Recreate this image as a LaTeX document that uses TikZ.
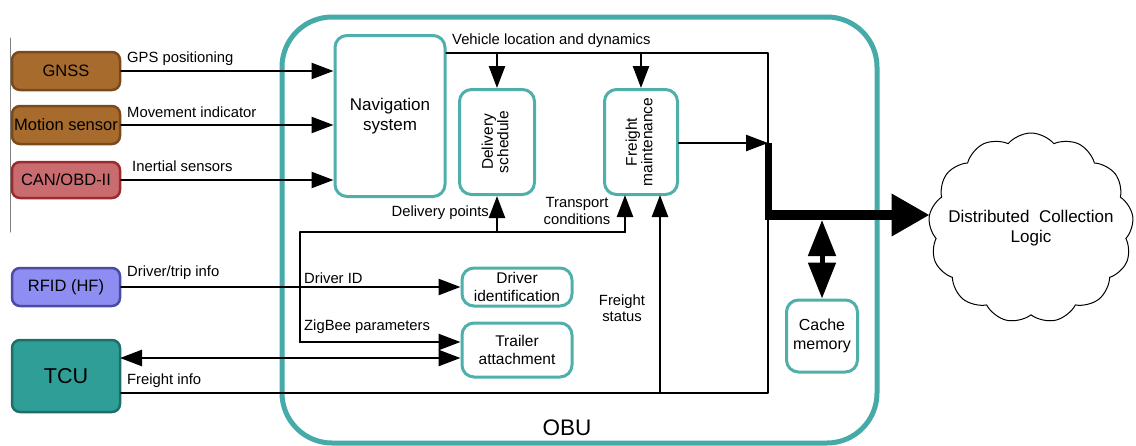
\documentclass[tikz,border=0pt]{standalone}
\usepackage{fontspec}
\setmainfont{Liberation Sans}
\usetikzlibrary{arrows.meta,shapes.symbols,positioning}
\definecolor{obuteal}{HTML}{45AAA8}
\definecolor{boxteal}{HTML}{4FAFAA}
\definecolor{gnssfill}{HTML}{A76B2D}
\definecolor{gnssdraw}{HTML}{7A4A1C}
\definecolor{canfill}{HTML}{C96C70}
\definecolor{candraw}{HTML}{9C2B2E}
\definecolor{rfidfill}{HTML}{8E8EF2}
\definecolor{rfiddraw}{HTML}{4B4BA3}
\definecolor{tcufill}{HTML}{2F9E97}
\definecolor{tcudraw}{HTML}{1F6E69}

\begin{document}
\begin{tikzpicture}[line cap=round,line join=round,>={Triangle[length=22pt,width=16pt]},x=1pt,y=-1pt,
  sensor/.style={draw,rounded corners=8,line width=2.5,minimum width=108,minimum height=38,inner sep=0,font=\fontsize{16.5}{19}\selectfont},
  unit/.style={draw=boxteal,rounded corners=12,line width=3,fill=white,align=center,inner sep=0,font=\fontsize{15.5}{17.5}\selectfont},
  conn/.style={line width=2.5},
  lbl/.style={inner sep=1,align=center,font=\fontsize{14.8}{16.5}\selectfont}]
\useasboundingbox (0,0) rectangle (1136,445);
\draw [gray,line width=1] (10,38) -- (10,232);
% the OBU frame
\draw [obuteal,line width=5,rounded corners=50] (282,17) rectangle (877,443);
\node [font=\fontsize{22.5}{24}\selectfont] (obulbl) at (567,428) {OBU};
% sources outside the OBU
\node [sensor,fill=gnssfill,draw=gnssdraw] (gnss) at (66,71) {GNSS};
\node [sensor,fill=gnssfill,draw=gnssdraw] (motion) at (66,125) {Motion sensor};
\node [sensor,fill=canfill,draw=candraw,minimum height=36] (can) at (66,180) {CAN/OBD-II};
\node [sensor,fill=rfidfill,draw=rfiddraw] (rfid) at (66,287) {RFID (HF)};
\node [sensor,fill=tcufill,draw=tcudraw,minimum height=72,font=\fontsize{21.5}{24}\selectfont] (tcu) at (66,376) {TCU};
% units inside the OBU
\node [unit,minimum width=110,minimum height=161,font=\fontsize{17}{20}\selectfont] (nav) at (390,116) {Navigation\\system};
\node [unit,minimum width=75,minimum height=105] (dsched) at (497,142) {\rotatebox{90}{\begin{tabular}{@{}c@{}}Delivery\\[-2pt]schedule\end{tabular}}};
\node [unit,minimum width=73,minimum height=105] (fmaint) at (641,142) {\rotatebox{90}{\begin{tabular}{@{}c@{}}Freight\\[-2pt]maintenance\end{tabular}}};
\node [unit,minimum width=110,minimum height=38] (drvid) at (517,287) {Driver\\identification};
\node [unit,minimum width=110,minimum height=54] (trailer) at (517,350) {Trailer\\attachment};
\node [unit,minimum width=71,minimum height=72,font=\fontsize{16}{19}\selectfont] (cache) at (822,336) {Cache\\memory};
\node [cloud,draw,line width=1,cloud puffs=13,cloud puff arc=100,minimum width=205,minimum height=190,inner sep=0] (dcl) at (1031,228) {};
\node [align=center,font=\fontsize{17}{20}\selectfont] (dcltxt) at (dcl.center) {Distributed~~Collection\\Logic};
% junction points
\coordinate (jtop) at (768,53);
\coordinate (jmid) at (768,143);
\coordinate (jbus) at (768,215);
\coordinate (jbot) at (768,393);
\coordinate (busl) at (300,232);
\coordinate (zig) at (300,342);
\coordinate (tcuio) at (120,358);
\coordinate (tcond) at (625,195);
\coordinate (fstat) at (660,195);
% sensor inputs
\draw [conn,->] (gnss) -- (gnss -| nav.west);
\draw [conn,->] (motion) -- (motion -| nav.west);
\draw [conn,->] (can) -- (can -| nav.west);
\draw [conn,->] (rfid) -- (rfid -| drvid.west);
\draw [conn,<->] (tcuio) -- (tcuio -| trailer.west);
% vehicle location bus
\draw [conn] (nav.east |- jtop) -- (jtop) -- (jmid);
\draw [conn,->] (dsched.north |- jtop) -- (dsched.north);
\draw [conn,->] (fmaint.north |- jtop) -- (fmaint.north);
\draw [conn,->] (fmaint.east |- jmid) -- (jmid);
% feedback bus
\draw [conn,->] (busl -| tcond) -- (tcond);
\draw [conn] (zig) -- (busl) -- (busl -| tcond);
\draw [conn,->] (zig) -- (zig -| trailer.west);
\draw [conn,->] (busl -| dsched.south) -- (dsched.south);
% freight info
\draw [conn] (tcu.east |- jbot) -- (jbot) -- (jbus);
\draw [conn,->] (fstat |- jbot) -- (fstat);
% output towards the cloud
\draw [line width=7,line cap=butt] (jmid) -- ([yshift=-5pt]jbus);
\draw [line width=10,line cap=butt,-{Triangle[length=38pt,width=40pt]}] ([xshift=-3.5pt]jbus) -- (jbus -| dcl.west);
\draw [line width=5,line cap=butt,{Triangle[length=36pt,width=27pt]}-{Triangle[length=36pt,width=27pt]}] (822,220) -- (cache.north);
% labels
\node [lbl,anchor=west] (lgps) at (126,59) {GPS positioning};
\node [lbl,anchor=west] (lmove) at (126,112) {Movement indicator};
\node [lbl,anchor=west] (linert) at (131,166) {Inertial sensors};
\node [lbl,anchor=west] (lveh) at (451,41) {Vehicle location and dynamics};
\node [lbl,anchor=east] (ldpts) at (490,213) {Delivery points};
\node [lbl] (ltrans) at (577,211) {Transport\\conditions};
\node [lbl,anchor=west] (ltrip) at (126,273) {Driver/trip info};
\node [lbl,anchor=west] (ldid) at (303,278) {Driver ID};
\node [lbl,anchor=west] (lzig) at (303,327) {ZigBee parameters};
\node [lbl,anchor=west] (lfinfo) at (126,381) {Freight info};
\node [lbl] (lfstat) at (622,308) {Freight\\status};
\end{tikzpicture}
\end{document}
